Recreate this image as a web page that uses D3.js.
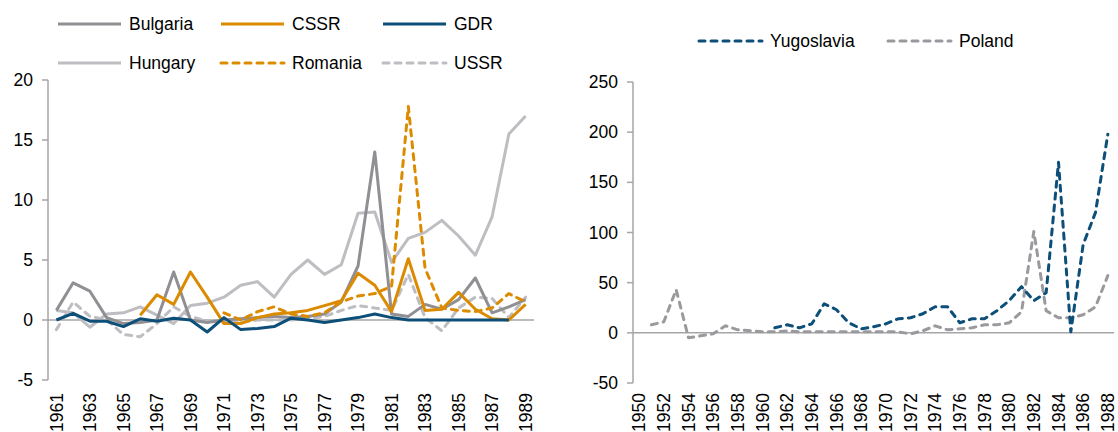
<!DOCTYPE html>
<html>
<head>
<meta charset="utf-8">
<script src="https://cdn.jsdelivr.net/npm/d3@7"></script>
<style>
  body { margin: 0; background: #fff; }
  svg { font-family: "Liberation Sans", Arial, sans-serif; }
</style>
</head>
<body>
<div id="chart"></div>
<script>
// left panel: 1961-1989
const yearsA = d3.range(1961, 1990);
const bulgaria = [0.8, 3.1, 2.4, 0.2, -0.3, -0.2, 0.0, 4.0, 0.0, -0.2, 0.0, 0.1, 0.2, 0.3, 0.2, 0.3, 0.5, 1.5, 4.5, 14.0, 0.5, 0.3, 1.3, 0.9, 1.7, 3.5, 0.6, 1.1, 1.7];
const cssr = [null, null, null, null, null, 0.4, 2.1, 1.3, 4.0, 1.9, -0.3, -0.3, 0.2, 0.5, 0.6, 0.8, 1.2, 1.6, 3.9, 2.9, 0.7, 5.1, 0.8, 0.9, 2.3, 0.9, 0.1, 0.0, 1.3];
const gdr = [0.0, 0.55, -0.1, -0.1, -0.55, 0.1, -0.1, 0.15, 0.0, -1.0, 0.2, -0.8, -0.7, -0.55, 0.15, 0.0, -0.2, 0.0, 0.2, 0.5, 0.2, 0.0, 0.0, 0.0, 0.0, 0.0, 0.0, 0.0, null];
const hungary = [0.8, 0.6, -0.6, 0.5, 0.6, 1.1, 0.4, -0.3, 1.2, 1.4, 1.9, 2.9, 3.2, 1.9, 3.8, 5.0, 3.8, 4.6, 8.9, 9.0, 4.8, 6.8, 7.3, 8.3, 7.0, 5.4, 8.6, 15.5, 17.0];
const romania = [null, null, null, null, null, null, null, null, null, null, 0.6, 0.0, 0.7, 1.1, 0.5, 0.3, 0.6, 1.5, 2.0, 2.2, 2.8, 17.8, 4.3, 1.0, 0.8, 0.7, 1.0, 2.2, 1.5];
const ussr = [-0.8, 1.5, 0.3, 0.0, -1.2, -1.4, -0.3, 1.1, 0.3, -0.1, -0.1, -0.2, 0.0, 0.0, 0.0, 0.1, 0.3, 0.8, 1.2, 1.0, 0.8, 3.8, 0.2, -0.9, 1.0, 1.9, 1.8, 0.2, 1.9];

// right panel: 1950-1988
const yearsB = d3.range(1950, 1989);
const yugoslavia = [null, null, null, null, null, null, null, null, null, null, null, 5, 8, 5, 9, 29, 23, 10, 4, 6, 9, 14, 15, 19, 26, 26, 10, 14, 14, 22, 32, 46, 32, 40, 170, 1, 88, 120, 198];
const poland = [null, 8, 11, 43, -5, -3, -1, 7, 3, 2, 1, 1, 2, 1, 1, 1, 1, 1, 1, 1, 1, 1, -1, 2, 7, 3, 4, 5, 8, 8, 10, 21, 101, 22, 15, 15, 18, 26, 57];

const ticksA = [-5, 0, 5, 10, 15, 20];
const ticksB = [-50, 0, 50, 100, 150, 200, 250];

const axisColor = "#a6a6a6";
const fontSize = "17.5px";

const svg = d3.select("#chart").append("svg")
    .attr("width", 1118)
    .attr("height", 432);

function panel(cfg) {
    const g = svg.append("g");
    const x = d3.scaleBand().domain(cfg.years).range([cfg.x0, cfg.x1]);
    const y = d3.scaleLinear().domain(cfg.domain).range([cfg.yBottom, cfg.yTop]);

    // y axis
    g.append("line")
        .attr("x1", cfg.x0).attr("x2", cfg.x0)
        .attr("y1", y(cfg.domain[0])).attr("y2", y(cfg.domain[1]))
        .attr("stroke", axisColor).attr("stroke-width", 1.5);
    cfg.ticks.forEach(t => {
        g.append("line")
            .attr("x1", cfg.x0 - 6).attr("x2", cfg.x0)
            .attr("y1", y(t)).attr("y2", y(t))
            .attr("stroke", axisColor).attr("stroke-width", 1.5);
        g.append("text")
            .attr("x", cfg.x0 - 15).attr("y", y(t))
            .attr("dy", "0.35em")
            .attr("text-anchor", "end")
            .attr("font-size", fontSize)
            .attr("fill", "#000")
            .text(t);
    });

    // zero line
    g.append("line")
        .attr("x1", cfg.x0).attr("x2", cfg.x1)
        .attr("y1", y(0)).attr("y2", y(0))
        .attr("stroke", axisColor).attr("stroke-width", 1.5);

    // x labels, every second year
    cfg.years.filter((d, i) => i % 2 === 0).forEach(yr => {
        const cx = x(yr) + x.bandwidth() / 2;
        g.append("text")
            .attr("transform", `translate(${cx},${cfg.labelTop}) rotate(-90)`)
            .attr("dy", "0.35em")
            .attr("text-anchor", "end")
            .attr("font-size", fontSize)
            .attr("fill", "#000")
            .text(yr);
    });

    const line = d3.line()
        .defined(d => d.v != null)
        .x(d => x(d.yr) + x.bandwidth() / 2)
        .y(d => y(d.v));

    cfg.series.forEach(s => {
        g.append("path")
            .datum(cfg.years.map((yr, i) => ({ yr: yr, v: s.values[i] })))
            .attr("d", line)
            .attr("fill", "none")
            .attr("stroke", s.color)
            .attr("stroke-width", 3)
            .attr("stroke-linejoin", "round")
            .attr("stroke-linecap", s.dash ? "round" : "butt")
            .attr("stroke-dasharray", s.dash ? "6,6" : null);
    });

    // legend
    cfg.legend.forEach(s => {
        g.append("line")
            .attr("x1", s.lx).attr("x2", s.lx + 63)
            .attr("y1", s.ly).attr("y2", s.ly)
            .attr("stroke", s.color)
            .attr("stroke-width", 3)
            .attr("stroke-linecap", s.dash ? "round" : "butt")
            .attr("stroke-dasharray", s.dash ? "6,6" : null);
        g.append("text")
            .attr("x", s.lx + 71).attr("y", s.ly)
            .attr("dy", "0.35em")
            .attr("font-size", fontSize)
            .attr("fill", "#000")
            .text(s.name);
    });
}

const sA = [
    { name: "Bulgaria", values: bulgaria, color: "#8f8f94", dash: false, lx: 58, ly: 24 },
    { name: "CSSR", values: cssr, color: "#dc8b00", dash: false, lx: 221, ly: 24 },
    { name: "GDR", values: gdr, color: "#0d4f78", dash: false, lx: 383, ly: 24 },
    { name: "Hungary", values: hungary, color: "#bebec2", dash: false, lx: 58, ly: 63 },
    { name: "Romania", values: romania, color: "#dc8b00", dash: true, lx: 221, ly: 63 },
    { name: "USSR", values: ussr, color: "#bebec2", dash: true, lx: 383, ly: 63 }
];
// draw order: lighter series behind
const orderA = ["Hungary", "USSR", "Bulgaria", "Romania", "CSSR", "GDR"];

panel({
    years: yearsA, x0: 48, x1: 534,
    domain: [-5, 20], yBottom: 380, yTop: 80,
    ticks: ticksA, labelTop: 393,
    series: orderA.map(n => sA.find(s => s.name === n)),
    legend: sA
});

const sB = [
    { name: "Yugoslavia", values: yugoslavia, color: "#0d4f78", dash: true, lx: 699, ly: 41 },
    { name: "Poland", values: poland, color: "#9a9a9e", dash: true, lx: 888, ly: 41 }
];

panel({
    years: yearsB, x0: 633, x1: 1114,
    domain: [-50, 250], yBottom: 383, yTop: 82,
    ticks: ticksB, labelTop: 393,
    series: [sB[1], sB[0]],
    legend: sB
});
</script>
</body>
</html>
